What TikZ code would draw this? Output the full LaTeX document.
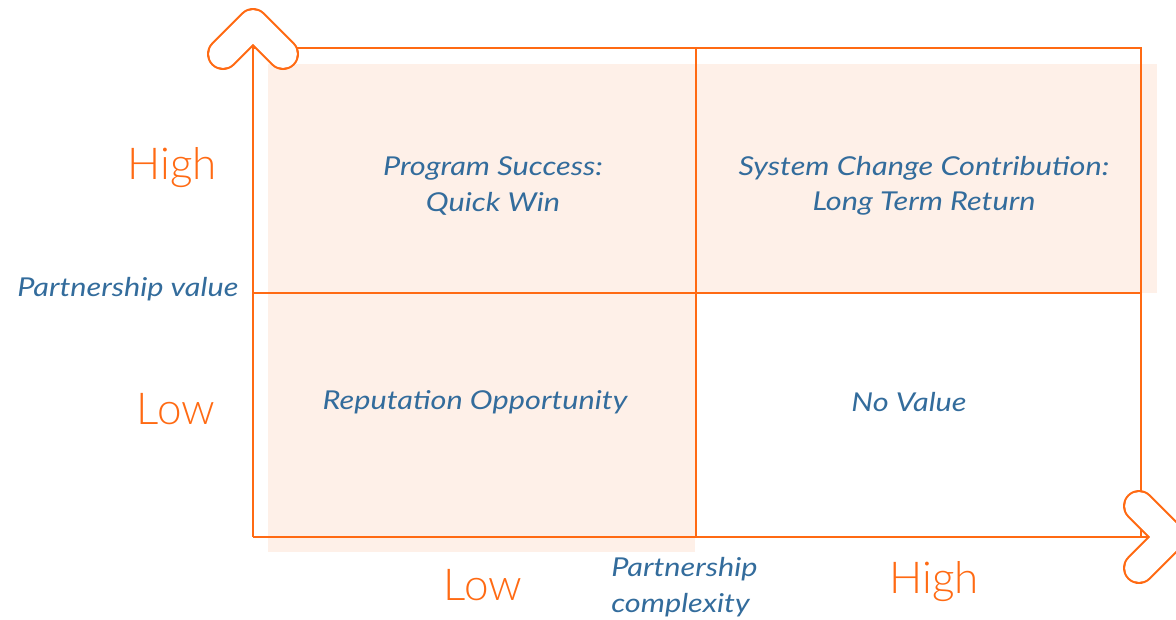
\documentclass[tikz,border=0pt]{standalone}
\usepackage{fontspec}
\setmainfont{Lato}
\newfontfamily\thinfont{Lato Light}
\newfontfamily\labelfont{Lato}[FakeStretch=1.18]
\definecolor{matrixorange}{HTML}{FF6A13}
\definecolor{matrixblue}{HTML}{336C9C}
\definecolor{matrixpeach}{HTML}{FEF0E8}

\begin{document}
\begin{tikzpicture}[x=0.75pt, y=-0.75pt,
    frame/.style={draw=matrixorange, line width=1.6pt},
    chevron outer/.style={draw=matrixorange, line width=24pt, line cap=round, line join=round},
    chevron inner/.style={draw=white, line width=20.8pt, line cap=round, line join=round},
    quadrant/.style={font=\labelfont\itshape\fontsize{19.5}{26.5}\selectfont, text=matrixblue, align=center},
    level/.style={font=\thinfont\fontsize{33}{38}\selectfont, text=matrixorange, anchor=base, inner sep=0pt},
    axislabel/.style={font=\labelfont\itshape\fontsize{19.5}{26.5}\selectfont, text=matrixblue, align=left, inner sep=0pt}]
  \useasboundingbox (0,0) rectangle (1176,619);
  % shaded cells
  \fill[matrixpeach] (268,64) rectangle (1157,293);
  \fill[matrixpeach] (268,293) rectangle (695,552);
  % corners of the grid
  \coordinate (O) at (253,537);
  \coordinate (TL) at (253,48);
  \coordinate (TR) at (1141,48);
  \coordinate (BR) at (1141,537);
  \coordinate (ML) at (253,293);
  \coordinate (MR) at (1141,293);
  \coordinate (MT) at (696,48);
  \coordinate (MB) at (696,537);
  \coordinate (Ytip) at (253,24);
  \coordinate (Xtip) at (1170,537);
  \draw[frame] (TL) -- (TR) -- (BR);
  \draw[frame] (ML) -- (MR);
  \draw[frame] (MT) -- (MB);
  \draw[frame] (O) -- (Ytip);
  \draw[frame] (O) -- (Xtip);
  % arrow heads
  \foreach \tip/\a/\b in {Ytip/{-30,30}/{30,30}, Xtip/{-31,-31}/{-31,31}} {
    \draw[chevron outer] ([shift={(\a)}]\tip) -- (\tip) -- ([shift={(\b)}]\tip);
    \draw[chevron inner] ([shift={(\a)}]\tip) -- (\tip) -- ([shift={(\b)}]\tip);
  }
  % cells
  \node[quadrant] (quickwin) at (493,186) {Program Success:\\Quick Win};
  \node[quadrant] (longterm) at (924,186) {System Change Contribution:\\Long Term Return};
  \node[quadrant] (reputation) at (475,402) {Reputation Opportunity};
  \node[quadrant] (novalue) at (909,402) {No Value};
  % axis labels
  \node[level] (highvalue) at (172,179) {High};
  \node[level] (lowvalue) at (176,424) {Low};
  \node[level] (lowcomplex) at (483,600) {Low};
  \node[level] (highcomplex) at (934,593) {High};
  \node[axislabel, anchor=west] (valuelabel) at (17,289) {Partnership value};
  \node[axislabel, anchor=west] (complexlabel) at (611,587) {Partnership\\complexity};
\end{tikzpicture}
\end{document}
